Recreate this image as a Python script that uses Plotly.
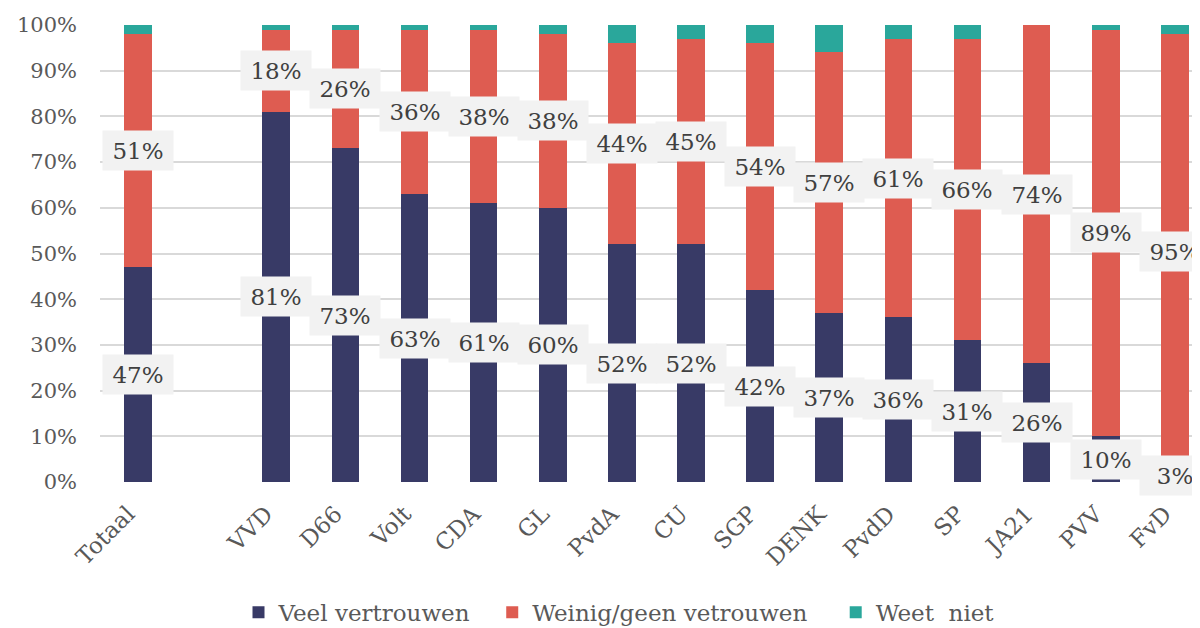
import plotly.graph_objects as go

categories = ["Totaal", " ", "VVD", "D66", "Volt", "CDA", "GL", "PvdA", "CU", "SGP",
              "DENK", "PvdD", "SP", "JA21", "PVV", "FvD"]
veel = [47, None, 81, 73, 63, 61, 60, 52, 52, 42, 37, 36, 31, 26, 10, 3]
weinig = [51, None, 18, 26, 36, 38, 38, 44, 45, 54, 57, 61, 66, 74, 89, 95]
weet_niet = [2, None, 1, 1, 1, 1, 2, 4, 3, 4, 6, 3, 3, 0, 1, 2]
series_names = ["Veel vertrouwen", "Weinig/geen vetrouwen", "Weet  niet"]
colors = ["#383a66", "#de5c51", "#2aa79b"]
y_ticks = [0, 10, 20, 30, 40, 50, 60, 70, 80, 90, 100]
y_tick_labels = [f"{v}%" for v in y_ticks]

FONT = "DejaVu Serif"
legend_ids = ["legend", "legend2", "legend3"]
legend_x = [0.125, 0.354, 0.664]

fig = go.Figure()
for name, vals, col, lid in zip(series_names, [veel, weinig, weet_niet], colors, legend_ids):
    fig.add_trace(go.Bar(x=categories, y=vals, name=name, marker_color=col,
                         marker_line_width=0, legend=lid))

annotations = []
for j, cat in enumerate(categories):
    if veel[j] is None:
        continue
    base = 0
    for vals in (veel, weinig):
        v = vals[j]
        annotations.append(dict(
            x=cat, y=base + v / 2, xref="x", yref="y", text=f"{v}%",
            showarrow=False, bgcolor="#f2f2f2", width=68, height=37,
            font=dict(family=FONT, size=23, color="#404040")))
        base += v

legend_common = dict(orientation="h", xanchor="left", y=-0.285, yanchor="middle",
                     font=dict(family=FONT, size=23, color="#595959"),
                     bgcolor="rgba(0,0,0,0)")

fig.update_layout(
    width=1200, height=628,
    paper_bgcolor="white", plot_bgcolor="white",
    barmode="stack", bargap=0.6,
    margin=dict(l=92, r=0, t=17, b=154, autoexpand=False),
    font=dict(family=FONT, color="#595959"),
    annotations=annotations,
    showlegend=True,
    legend=dict(x=legend_x[0], **legend_common),
    legend2=dict(x=legend_x[1], **legend_common),
    legend3=dict(x=legend_x[2], **legend_common),
)
fig.update_xaxes(type="category", categoryorder="array", categoryarray=categories,
                 range=[-0.55, 15.48], tickangle=-45, showgrid=False, showline=False,
                 automargin=False, ticklabelstandoff=13, ticklabelshift=-10,
                 tickfont=dict(family=FONT, size=23, color="#595959"))
fig.update_yaxes(range=[0, 100], tickmode="array", tickvals=y_ticks, ticktext=y_tick_labels,
                 showgrid=True, gridcolor="#d9d9d9", gridwidth=2, zeroline=False,
                 ticklabelstandoff=22, automargin=False,
                 tickfont=dict(family=FONT, size=21, color="#595959"))

fig.write_html("out.html")
